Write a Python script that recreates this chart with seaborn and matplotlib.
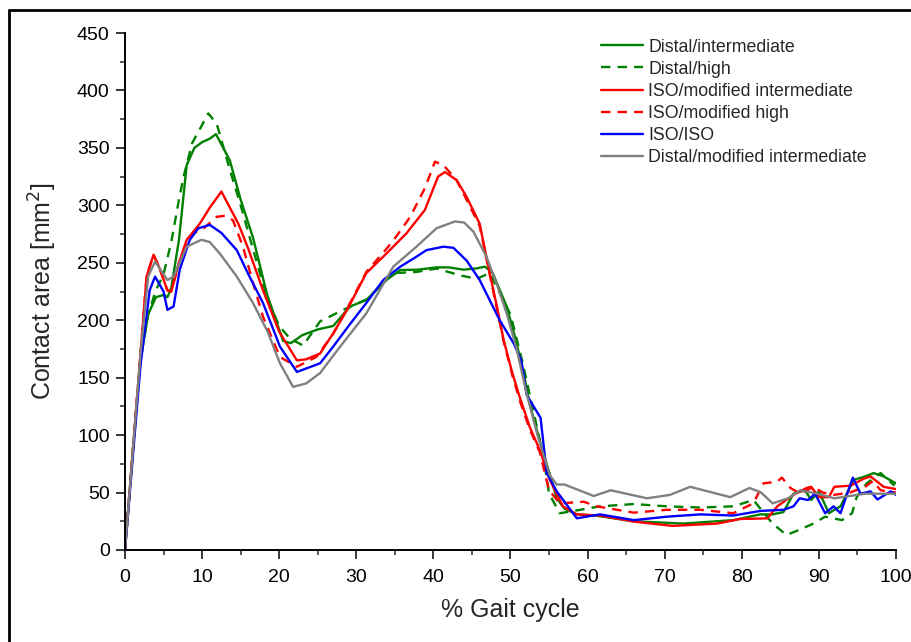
import matplotlib
matplotlib.use("Agg")
import matplotlib.pyplot as plt
import seaborn as sns
import pandas as pd
from matplotlib.lines import Line2D
from matplotlib.ticker import MultipleLocator

# ---------------- data ----------------
labels = ["Distal/intermediate", "Distal/high", "ISO/modified intermediate",
          "ISO/modified high", "ISO/ISO", "Distal/modified intermediate"]

dist_int_x = [0, 1, 2, 3, 4, 5, 5.5, 6, 7, 8, 9, 10, 11, 11.8, 13.6, 15, 16.6, 18.4, 20.5, 21.5, 23, 25,
              27, 29.2, 31.3, 33.9, 35.7, 38, 40.4, 42, 43.9, 45.5, 46.7, 47.7, 49.5, 50.6, 51.7, 52.5, 54, 55,
              56, 57, 58.6, 61, 66, 72.4, 78.9, 82.4, 84, 85.4, 86.7, 88.2, 89, 90, 91.3, 92, 92.8, 94.5, 96,
              97.1, 98.4, 100]
dist_int_y = [0, 85, 165, 205, 220, 222, 220, 228, 270, 335, 350, 355, 358, 362, 339, 305, 272, 223, 182, 180,
              187, 192, 195, 212, 217.6, 235, 243.7, 244, 246, 246, 244, 245, 246.6, 241, 212, 185, 154, 127, 90,
              68, 45, 36, 31, 30, 25, 23, 26, 31, 31, 33, 49, 52, 43.5, 51, 32, 35, 38, 61, 64, 67, 64, 58]

dist_high_x = [0, 1, 2, 3, 4, 5, 6, 7, 7.6, 8.7, 10, 10.8, 11.9, 13.6, 15, 16.6, 18.4, 20, 21.4, 23.1, 25.3,
               28.3, 31.3, 34.8, 37.8, 40.4, 43.5, 45.6, 47.3, 48.5, 50, 51.5, 53, 54.3, 55, 56.4, 58.2, 61.6,
               66, 70.3, 74.6, 78.9, 81.5, 84, 85.8, 87.6, 89.3, 90.8, 93, 94.3, 94.9, 96.2, 98, 99.8]
dist_high_y = [0, 85, 165, 205, 226, 240, 268, 305, 325, 354, 370, 380, 371, 331, 300, 262, 220, 195, 184, 178,
               199, 209, 218, 241, 242, 245, 239, 236, 241, 225, 205, 165, 120, 80, 49, 32, 34, 38, 40, 38, 37,
               38, 43.5, 23, 13, 18, 23, 29, 26, 32, 46, 58, 67, 56]

iso_mint_x = [0, 1, 2, 2.8, 3.7, 4.5, 5.5, 6, 7, 8, 9.7, 11, 12.5, 14.7, 16, 17.9, 20, 22.3, 23.5, 25.3, 27,
              28.8, 31.3, 33.9, 36.5, 38.9, 40.6, 41.5, 43, 44.3, 46, 47.3, 48.3, 49.1, 50.2, 51.2, 52.5, 53.8,
              55.1, 56.8, 58.6, 61.6, 66, 71, 76.8, 79.8, 83.3, 84.6, 86.7, 88.4, 89, 90, 91.3, 92, 94.1, 95.8,
              96.7, 98.4, 100]
iso_mint_y = [0, 85, 170, 238, 257, 245, 226, 225, 250, 270, 284, 298, 312, 284, 262, 226, 190, 165, 166, 171,
              188.6, 209, 241, 258, 275.6, 296, 325, 329, 322, 307.5, 284, 241, 210, 183, 155, 133, 107, 87, 61,
              38, 31, 30, 24.7, 21, 23, 27, 27.5, 38, 48, 54, 55, 46, 46, 55, 56, 62, 64, 55, 53]

iso_mhigh_x = [0, 1, 2, 2.8, 3.7, 4.5, 5.5, 6, 7, 8, 9, 10.2, 11.9, 13, 14, 15.3, 16.5, 17.9, 20.1, 22.3, 24.8,
               27, 28.8, 31.3, 33.9, 35.2, 37, 38.9, 40.2, 41.3, 43, 44.3, 46, 47.3, 48.3, 49.1, 50.2, 51.2, 52.5,
               53.8, 55, 56.4, 59.5, 61.2, 66, 70.3, 74.6, 78.9, 81.5, 82.8, 84.6, 85.2, 86.3, 87.6, 89.3, 90.5,
               92, 94, 96, 97, 98, 100]
iso_mhigh_y = [0, 85, 170, 238, 257, 245, 226, 225, 250, 268, 276, 280, 290, 291, 287, 264, 235, 203, 168,
               159.5, 168, 188, 210, 242, 262, 273, 290, 315, 338, 335, 322, 305, 282, 240, 208, 182, 153, 130,
               105, 85, 52, 40.6, 42, 38, 32.5, 35, 35, 32, 40.6, 58, 59.5, 63, 54, 49, 55, 50, 48, 50, 55, 60,
               52, 50]

iso_iso_x = [0, 1, 2, 3.2, 3.9, 5, 5.5, 6.3, 7.1, 8.4, 9.5, 11, 12.5, 14.5, 16, 17.9, 20.1, 22.3, 25.3, 27, 29,
             31.3, 33.5, 35.7, 37.5, 39.1, 41.3, 42.6, 44.3, 46, 48.6, 50.4, 51.4, 52.1, 53.9, 54.7, 56, 58.6,
             61.6, 66, 70.3, 74.6, 78.9, 82.4, 85.4, 86.7, 87.5, 88.6, 89.5, 90.8, 91.9, 92.8, 94.4, 95.4, 96.7,
             97.6, 99.3, 100]
iso_iso_y = [0, 80, 160, 226, 238, 225, 209, 212, 244, 270, 280, 283, 276, 261, 240, 215, 177, 155, 162.5, 177,
             195, 215, 235, 246.6, 254, 261, 264, 263, 252, 235, 200, 180, 165, 135, 115, 67, 51, 27.6, 31, 26,
             29, 31, 30, 34, 35, 38, 45, 43.5, 49, 32, 38, 32, 63, 49, 51, 44, 51, 48]

dist_mint_x = [0, 1, 2, 3, 3.9, 5, 5.5, 6.3, 8, 9.9, 11, 12.3, 14.5, 16.6, 18.5, 20.1, 21.8, 23.5, 25.3, 27.9,
               31.3, 34.8, 37.8, 40.4, 42.8, 44, 45.2, 46.9, 48.3, 49.5, 50.8, 52.1, 53.5, 55.1, 56, 57, 60.8,
               63, 67.7, 70.7, 73.3, 78.5, 81, 82.5, 84, 86, 87.6, 89.8, 92, 96, 100]
dist_mint_y = [0, 85, 170, 238, 251, 240, 235, 238, 264, 270, 268, 258, 238, 215, 190, 162.5, 142, 145, 154,
               177, 206, 246.6, 264, 280, 286, 285, 277, 255, 230, 206, 175, 136, 100, 65, 57, 57, 47, 52, 45,
               48, 55, 46, 54, 50, 40.6, 45, 52, 49, 45, 49, 49]

series_x = [dist_int_x, dist_high_x, iso_mint_x, iso_mhigh_x, iso_iso_x, dist_mint_x]
series_y = [dist_int_y, dist_high_y, iso_mint_y, iso_mhigh_y, iso_iso_y, dist_mint_y]
colors = ["#008000", "#008000", "#FF0000", "#FF0000", "#0000FF", "#808080"]
dashed = [False, True, False, True, False, False]

x_ticks = [0, 10, 20, 30, 40, 50, 60, 70, 80, 90, 100]
y_ticks = [0, 50, 100, 150, 200, 250, 300, 350, 400, 450]

# ---------------- plot ----------------
sns.set_theme(style="ticks")
plt.rcParams["font.family"] = ["Liberation Sans", "DejaVu Sans"]

fig = plt.figure(figsize=(9.12, 6.42), dpi=100)
ax = fig.add_axes([125 / 912, 1 - 550 / 642, (896 - 125) / 912, (550 - 33) / 642])

for lab, xs, ys, c, d in zip(labels, series_x, series_y, colors, dashed):
    df = pd.DataFrame({"x": xs, "y": ys})
    sns.lineplot(data=df, x="x", y="y", ax=ax, color=c, lw=1.7, label=lab,
                 sort=False, estimator=None)
    if d:
        ax.lines[-1].set_dashes((4, 3))

ax.set_xlim(0, 100)
ax.set_ylim(0, 450)
ax.set_xticks(x_ticks)
ax.set_yticks(y_ticks)
ax.xaxis.set_minor_locator(MultipleLocator(5))
ax.yaxis.set_minor_locator(MultipleLocator(25))
ax.tick_params(axis="both", which="major", direction="out", length=6.5, width=1.1,
               labelsize=14, colors="black")
ax.tick_params(axis="x", which="major", pad=7)
ax.tick_params(axis="y", which="major", pad=4.5)
ax.tick_params(axis="both", which="minor", direction="out", length=3.5, width=1.1)
for s in ["top", "right"]:
    ax.spines[s].set_visible(False)
for s in ["left", "bottom"]:
    ax.spines[s].set_linewidth(1.4)
    ax.spines[s].set_color("black")

ax.set_xlabel("% Gait cycle", fontsize=18, labelpad=9)
ax.set_ylabel("Contact area [mm$^2$]", fontsize=18, labelpad=13)

leg = ax.legend(loc="upper left", bbox_to_anchor=(601 / 912, 1 - 38.5 / 642),
                bbox_transform=fig.transFigure, frameon=False, fontsize=12.8,
                handlelength=2.36, handletextpad=0.3, labelspacing=0.29,
                borderpad=0, borderaxespad=0)

# outer frame (left and top edges visible)
fig.add_artist(Line2D([9 / 912, 9 / 912], [0, 1 - 9.5 / 642], transform=fig.transFigure,
                      color="black", lw=2))
fig.add_artist(Line2D([9 / 912, 1], [1 - 9.5 / 642, 1 - 9.5 / 642], transform=fig.transFigure,
                      color="black", lw=2))

fig.savefig("out.png", dpi=100)
